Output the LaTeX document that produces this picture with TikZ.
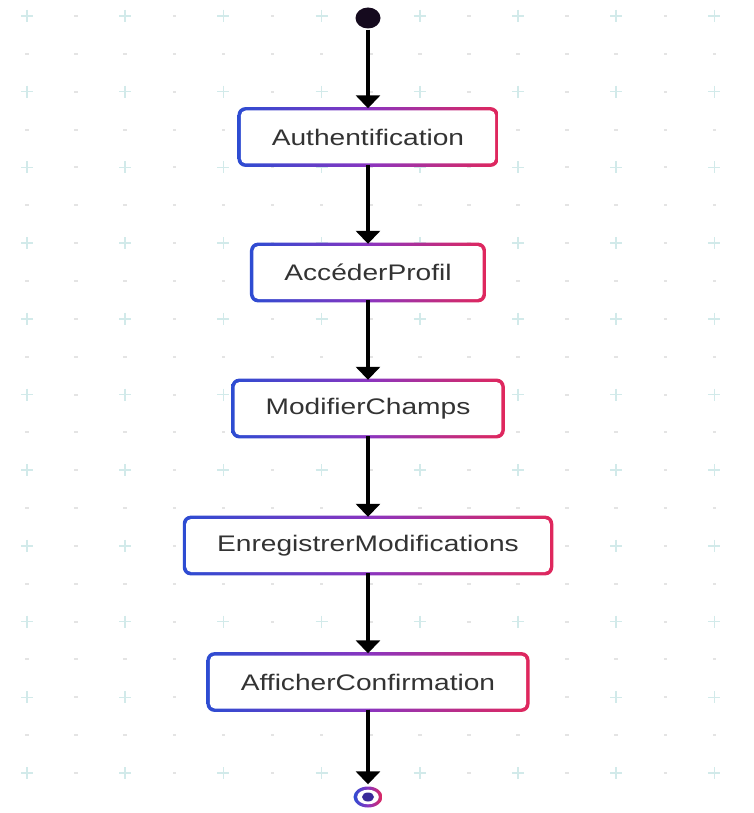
\documentclass[tikz,border=0pt]{standalone}
\usepackage{fontspec}
\setmainfont{Liberation Sans}
\usetikzlibrary{shapes.geometric,arrows.meta,backgrounds,calc}
\pgfdeclarelayer{grid}
\pgfsetlayers{grid,background,main}
\definecolor{gblue}{HTML}{2D4CD2}
\definecolor{gmid}{HTML}{8A35C0}
\definecolor{gred}{HTML}{E0275C}
\definecolor{txt}{HTML}{333333}
\definecolor{crossc}{HTML}{D2EAEA}
\definecolor{dotc}{HTML}{E4E4E4}
\definecolor{startc}{HTML}{150A1E}
\definecolor{endc}{HTML}{3A2A9A}
\newcommand{\lbl}[1]{\scalebox{1.25}[1]{#1}}
\tikzset{
 stepbox/.style={fill=white, rounded corners=5pt, minimum height=53pt, inner xsep=31pt, inner ysep=0pt, font=\fontsize{22.5}{27}\selectfont, text=txt},
 flow/.style={line width=3.2pt, -{Triangle[width=24pt,length=13pt]}, shorten >=2pt, shorten <=1pt},
 border/.style={left color=gblue, right color=gred, middle color=gmid, rounded corners=8pt}
}
\begin{document}
\begin{tikzpicture}[x=1pt,y=-1pt]
\useasboundingbox (0,0) rectangle (753,813);
\begin{pgfonlayer}{grid}
\fill[white] (0,0) rectangle (753,813);
\foreach \i in {0,...,14} \foreach \j in {0,...,20} {
  \pgfmathsetmacro\xx{27+49.1*\i}
  \pgfmathsetmacro\yy{16+37.85*\j}
  \pgfmathtruncatemacro\ev{((mod(\i,2)==0)&&(mod(\j,2)==0))}
  \ifnum\ev=1
   \draw[crossc, line width=1.5pt] (\xx-6,\yy) -- (\xx+6,\yy) (\xx,\yy-6) -- (\xx,\yy+6);
  \else
   \fill[dotc] (\xx-1.8,\yy-1) rectangle (\xx+1.8,\yy+1);
  \fi
}
\end{pgfonlayer}

\node[ellipse, fill=startc, minimum width=25pt, minimum height=21pt, inner sep=0pt] (s) at (368,18) {};
\node[stepbox] (a) at (368,137) {\lbl{Authentification}};
\node[stepbox] (b) at (368,272.5) {\lbl{AccéderProfil}};
\node[stepbox] (c) at (368,408.5) {\lbl{ModifierChamps}};
\node[stepbox] (d) at (368,545.5) {\lbl{EnregistrerModifications}};
\node[stepbox] (e) at (368,682) {\lbl{AfficherConfirmation}};
\node[ellipse, minimum width=29pt, minimum height=21pt, inner sep=0pt] (z) at (368,797) {};

\begin{scope}[on background layer]
\foreach \n in {a,b,c,d,e}
  \shade[border] ($(\n.north west)+(-3.2,-3.2)$) rectangle ($(\n.south east)+(3.2,3.2)$);
\end{scope}

\shade[left color=gblue, right color=gred, middle color=gmid] (z.center) ellipse [x radius=14.5, y radius=10.5];
\fill[white] (z.center) ellipse [x radius=10.8, y radius=7.3];
\fill[endc] (z.center) ellipse [x radius=6, y radius=4.5];

\draw[flow] (s.south) -- (a.north);
\draw[flow] (a.south) -- (b.north);
\draw[flow] (b.south) -- (c.north);
\draw[flow] (c.south) -- (d.north);
\draw[flow] (d.south) -- (e.north);
\draw[flow] (e.south) -- (z.north);
\end{tikzpicture}
\end{document}
